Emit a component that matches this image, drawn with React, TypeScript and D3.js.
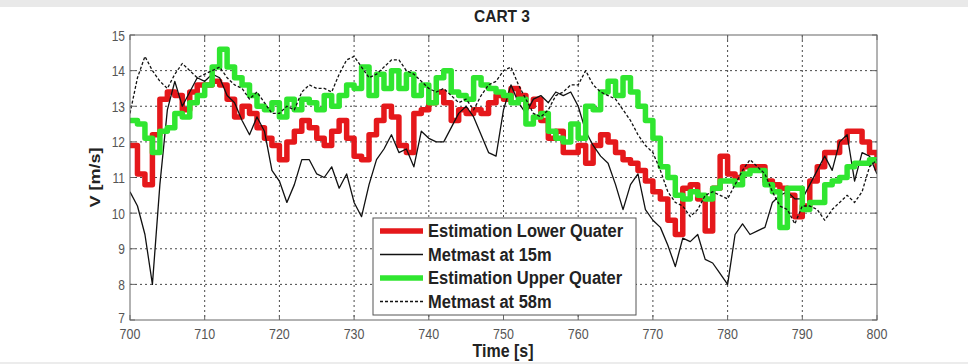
import React from "react";
import * as d3 from "d3";

// valores por segundo, t = 700 .. 800
const lowerQuarter = [
  11.9, 11.1, 10.8, 12.2, 13.2, 13.4, 13.3, 12.9, 13.4, 13.6,
  13.6, 13.7, 13.6, 13.2, 12.7, 13.0, 12.8, 12.4, 12.1, 11.9,
  11.5, 12.0, 12.3, 12.6, 12.4, 12.1, 11.9, 12.3, 12.6, 12.1,
  11.6, 11.5, 12.2, 12.6, 13.0, 12.7, 11.9, 11.7, 12.8, 12.9,
  13.1, 13.4, 13.1, 12.6, 12.9, 12.8, 12.9, 12.8, 13.1, 13.3,
  13.2, 13.5, 13.3, 13.0, 13.2, 12.6, 12.1, 12.3, 11.7, 11.7,
  11.9, 11.4, 11.9, 12.2, 12.0, 11.7, 11.5, 11.4, 11.2, 10.9,
  10.6, 10.4, 9.8, 9.4, 10.7, 10.8, 10.4, 9.5, 10.7, 11.6,
  11.1, 11.0, 11.3, 11.3, 11.3, 10.9, 10.8, 10.7, 10.5, 9.9,
  10.2, 10.9, 11.3, 11.7, 11.7, 12.0, 12.3, 12.3, 12.0, 11.7,
  11.2,
];

const metmast15 = [
  10.6, 10.2, 9.4, 8.0, 10.8, 12.9, 13.7, 13.0, 13.4, 13.8,
  13.7, 13.9, 13.8, 13.3, 13.1, 12.6, 12.2, 12.7, 12.3, 11.2,
  10.9, 10.3, 10.8, 11.5, 11.5, 11.1, 11.0, 11.3, 10.7, 11.1,
  10.3, 9.9, 10.8, 11.5, 11.8, 12.2, 11.7, 11.8, 11.3, 12.3,
  12.1, 12.0, 12.0, 12.4, 12.8, 13.0, 12.7, 12.2, 11.7, 11.6,
  12.9, 13.6, 13.1, 12.8, 13.2, 13.3, 13.1, 13.4, 13.3, 13.4,
  13.0, 12.3, 11.9, 11.6, 11.4, 10.8, 10.1, 10.8, 11.1, 10.1,
  9.8, 9.6, 9.1, 8.5, 9.3, 9.2, 9.4, 8.7, 8.6, 8.3,
  8.0, 9.4, 9.7, 9.4, 9.5, 9.6, 10.3, 10.5, 10.6, 10.4,
  10.4, 10.8, 11.2, 11.6, 11.2, 12.0, 12.2, 10.9, 11.7, 11.6,
  11.1,
];

const upperQuarter = [
  12.6, 12.5, 12.1, 11.7, 12.3, 12.4, 12.8, 12.7, 13.1, 13.3,
  13.6, 14.1, 14.6, 14.1, 13.8, 13.6, 13.3, 13.0, 12.9, 13.1,
  12.7, 13.2, 12.9, 13.2, 13.1, 12.9, 13.3, 13.0, 13.3, 13.6,
  13.5, 14.1, 13.3, 13.9, 13.5, 14.0, 13.5, 13.9, 13.3, 13.6,
  13.1, 13.8, 14.0, 13.4, 13.3, 13.2, 13.8, 13.6, 13.5, 13.4,
  13.3, 13.1, 13.2, 12.5, 12.7, 12.8, 12.3, 12.1, 12.0, 12.5,
  12.1, 13.0, 12.9, 13.4, 13.7, 13.3, 13.8, 13.4, 13.0, 12.6,
  12.1, 11.3, 11.0, 10.5, 10.4, 10.6, 10.5, 10.4, 10.7, 10.9,
  10.9, 10.8, 11.1, 11.2, 11.2, 10.8, 10.6, 9.6, 10.7, 10.7,
  10.1, 10.3, 10.3, 10.8, 10.9, 11.0, 11.3, 11.4, 11.4, 11.5,
  11.4,
];

const metmast58 = [
  12.8, 13.8, 14.4, 14.0, 13.7, 13.5, 13.9, 14.2, 14.0, 13.8,
  13.9, 14.0, 14.1, 13.8, 13.6, 13.5, 13.2, 13.4, 13.1, 12.8,
  12.8, 13.0, 12.9, 13.4, 13.6, 13.5, 13.5, 13.4, 13.9, 14.3,
  14.4, 14.1, 13.8, 13.9, 14.1, 14.3, 14.3, 14.0, 13.9, 13.7,
  13.5, 13.4, 13.5, 13.3, 13.1, 13.2, 12.9, 13.3, 13.6, 13.7,
  14.0, 14.1, 13.6, 13.2, 12.8, 12.7, 12.9, 13.3, 13.4, 13.6,
  13.6, 14.0, 13.6, 13.4, 13.3, 13.2, 12.9, 12.6, 12.2, 11.9,
  11.7, 11.2, 10.6, 10.3, 10.2, 9.9, 10.1, 10.5, 10.6, 10.5,
  10.4, 10.8, 11.2, 11.5, 11.3, 11.1, 10.6, 10.2, 10.1, 9.7,
  10.2, 10.2, 10.1, 9.8, 10.1, 10.3, 10.5, 10.3, 10.6, 11.3,
  11.5,
];

const xTicks = [700, 710, 720, 730, 740, 750, 760, 770, 780, 790, 800];
const yTicks = [7, 8, 9, 10, 11, 12, 13, 14, 15];

const series = [
  { name: "Estimation Lower Quater", values: lowerQuarter, color: "#e5181b", width: 5.5, dash: null, step: true },
  { name: "Metmast at 15m", values: metmast15, color: "#111", width: 1.3, dash: null, step: false },
  { name: "Estimation Upper Quater", values: upperQuarter, color: "#30e630", width: 5.5, dash: null, step: true },
  { name: "Metmast at 58m", values: metmast58, color: "#111", width: 1.3, dash: "3,2", step: false },
];

const W = 968, H = 364;
const margin = { top: 35, right: 91, bottom: 44, left: 130 };
const T0 = 700;

export default function App() {
  const x = d3.scaleLinear().domain([700, 800]).range([margin.left, W - margin.right]);
  const y = d3.scaleLinear().domain([7, 15]).range([H - margin.bottom, margin.top]);
  const [x0, x1] = x.range();
  const [y0, y1] = y.range();

  const lineFor = (step: boolean) =>
    d3
      .line<number>()
      .x((_d, i) => x(T0 + i))
      .y((d) => y(d))
      .curve(step ? d3.curveStepAfter : d3.curveLinear);

  const font = "Arial, 'Liberation Sans', Helvetica, sans-serif";
  const legend = { x: 373, y: 218, w: 263, h: 97, row: 23.5 };
  // la imagen original está algo estirada en vertical
  const tall = (tx: number, ty: number, k = 1.2) => `translate(${tx}, ${ty}) scale(1, ${k})`;

  return (
    <svg
      width={W}
      height={H}
      style={{ position: "absolute", left: 0, top: 0, background: "#fff" }}
      fontFamily={font}
    >
      <rect x={0} y={0} width={W} height={7} fill="#e9e9e9" />
      <rect x={0} y={H - 2} width={W} height={2} fill="#ececec" />

      {/* Título */}
      <text transform={tall(502, 22, 1.1)} textAnchor="middle" fontWeight="bold" fontSize={15.5} fill="#222">
        CART 3
      </text>

      {/* rejilla */}
      {xTicks.slice(1, -1).map((t) => (
        <line key={"gx" + t} x1={x(t)} x2={x(t)} y1={y1} y2={y0} stroke="#333" strokeWidth={0.9} strokeDasharray="2,3" />
      ))}
      {yTicks.slice(1, -1).map((v) => (
        <line key={"gy" + v} x1={x0} x2={x1} y1={y(v)} y2={y(v)} stroke="#333" strokeWidth={0.9} strokeDasharray="2,3" />
      ))}

      {/* series */}
      <defs>
        <clipPath id="plotclip">
          <rect x={x0} y={y1} width={x1 - x0} height={y0 - y1} />
        </clipPath>
      </defs>
      <g clipPath="url(#plotclip)">
        {series.map((s) => (
          <path
            key={s.name}
            d={lineFor(s.step)(s.values) || ""}
            fill="none"
            stroke={s.color}
            strokeWidth={s.width}
            strokeDasharray={s.dash || undefined}
            strokeLinejoin="round"
          />
        ))}
      </g>

      {/* marco y marcas */}
      <rect x={x0} y={y1} width={x1 - x0} height={y0 - y1} fill="none" stroke="#666" strokeWidth={1} />
      {xTicks.map((t) => (
        <g key={"tx" + t}>
          <line x1={x(t)} x2={x(t)} y1={y0} y2={y0 - 5} stroke="#666" />
          <line x1={x(t)} x2={x(t)} y1={y1} y2={y1 + 5} stroke="#666" />
          <text transform={tall(x(t), y0 + 18.5)} textAnchor="middle" fontSize={12.5} fill="#555">
            {t}
          </text>
        </g>
      ))}
      {yTicks.map((v) => (
        <g key={"ty" + v}>
          <line x1={x0} x2={x0 + 5} y1={y(v)} y2={y(v)} stroke="#666" />
          <line x1={x1} x2={x1 - 5} y1={y(v)} y2={y(v)} stroke="#666" />
          <text transform={tall(x0 - 5, y(v) + (v === 7 ? 3 : 5.5))} textAnchor="end" fontSize={12} fill="#555">
            {v}
          </text>
        </g>
      ))}

      {/* etiquetas de ejes */}
      <text transform={tall(503, 357, 1.15)} textAnchor="middle" fontWeight="bold" fontSize={16} fill="#222">
        Time [s]
      </text>
      <text
        transform={`translate(100, ${(y0 + y1) / 2}) rotate(-90) scale(1.2, 1)`}
        textAnchor="middle"
        fontWeight="bold"
        fontSize={15}
        fill="#222"
      >
        V [m/s]
      </text>

      {/* leyenda */}
      <rect x={legend.x} y={legend.y} width={legend.w} height={legend.h} fill="#fff" stroke="#555" strokeWidth={1} />
      {series.map((s, i) => {
        const ly = legend.y + 13 + i * legend.row;
        return (
          <g key={"lg" + s.name}>
            <line
              x1={legend.x + 7}
              x2={legend.x + 50}
              y1={ly}
              y2={ly}
              stroke={s.color}
              strokeWidth={s.width}
              strokeDasharray={s.dash || undefined}
            />
            <text transform={tall(legend.x + 55, ly + 6, 1.1)} fontSize={16.5} fontWeight="bold" fill="#222">
              {s.name}
            </text>
          </g>
        );
      })}
    </svg>
  );
}
